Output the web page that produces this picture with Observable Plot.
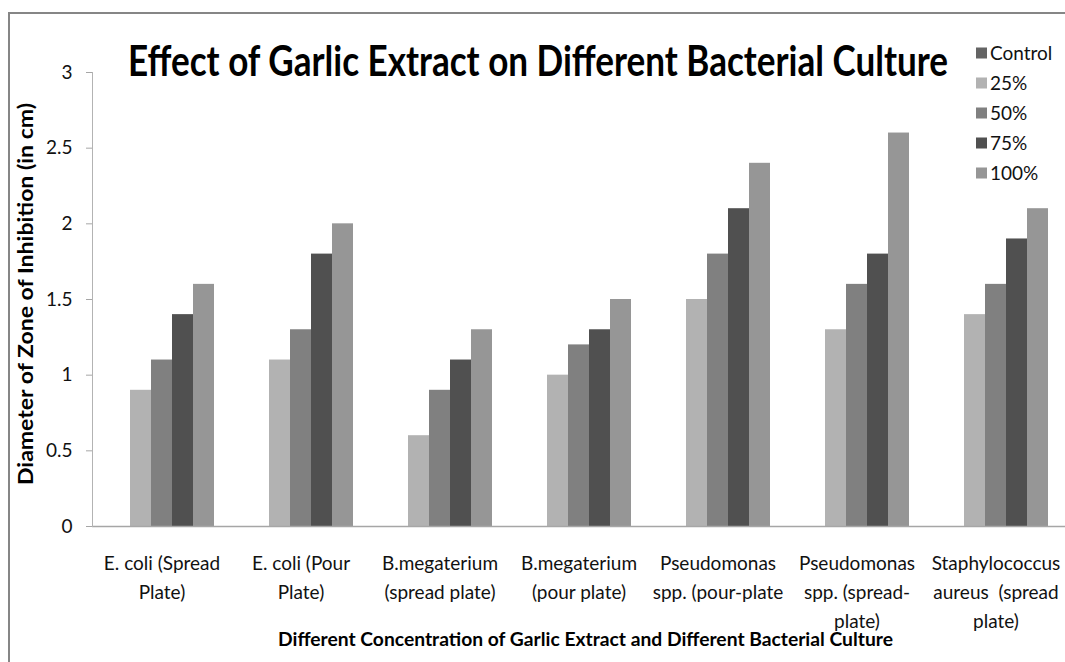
<!DOCTYPE html>
<html><head><meta charset="utf-8">
<script src="https://cdn.jsdelivr.net/npm/d3@7"></script>
<script src="https://cdn.jsdelivr.net/npm/@observablehq/plot@0.6"></script>
<style>html,body{margin:0;padding:0;background:#fff;} #chart{width:1065px;height:662px;}</style>
</head><body><div id="chart"></div>
<script>
const categories = ["E. coli (Spread Plate)", "E. coli (Pour Plate)", "B.megaterium (spread plate)", "B.megaterium (pour plate)", "Pseudomonas spp. (pour-plate", "Pseudomonas spp. (spread-plate)", "Staphylococcus aureus (spread plate)"];
const tickLabels = ["E. coli (Spread\nPlate)", "E. coli (Pour\nPlate)", "B.megaterium\n(spread plate)", "B.megaterium\n(pour plate)", "Pseudomonas\nspp. (pour-plate", "Pseudomonas\nspp. (spread-\nplate)", "Staphylococcus\naureus  (spread\nplate)"];
const seriesNames = ["Control", "25%", "50%", "75%", "100%"];
const control = [0, 0, 0, 0, 0, 0, 0];
const conc25 = [0.9, 1.1, 0.6, 1.0, 1.5, 1.3, 1.4];
const conc50 = [1.1, 1.3, 0.9, 1.2, 1.8, 1.6, 1.6];
const conc75 = [1.4, 1.8, 1.1, 1.3, 2.1, 1.8, 1.9];
const conc100 = [1.6, 2.0, 1.3, 1.5, 2.4, 2.6, 2.1];
const yTicks = [0, 0.5, 1, 1.5, 2, 2.5, 3];
const yTickLabels = ["0", "0.5", "1", "1.5", "2", "2.5", "3"];
const colors = ["#646464", "#b2b2b2", "#808080", "#505050", "#969696"];
const titleText = "Effect of Garlic Extract on Different Bacterial Culture";
const xTitle = "Different Concentration of Garlic Extract and Different Bacterial Culture";
const yTitle = "Diameter of Zone of Inhibition (in cm)";

const seriesValues = [control, conc25, conc50, conc75, conc100];
const data = categories.flatMap((c, i) => seriesValues.map((vals, j) => ({category: c, series: seriesNames[j], value: vals[i]})));

const plot = Plot.plot({
  width: 1065, height: 662,
  marginTop: 72, marginBottom: 136, marginLeft: 92, marginRight: 0,
  style: {fontFamily: "Lato, sans-serif", fontSize: "19px", color: "#111", background: "#fff", overflow: "visible"},
  fx: {domain: categories, padding: 0, label: null},
  x: {domain: seriesNames, paddingInner: 0, paddingOuter: 0.763, axis: null},
  y: {domain: [0, 3], label: null},
  color: {domain: seriesNames, range: colors},
  marks: [
    Plot.barY(data, {fx: "category", x: "series", y: "value", fill: "series"}),
    Plot.ruleY([0], {stroke: "#a6a6a6", strokeWidth: 1.5}),
    Plot.frame({anchor: "left", facetAnchor: "left", stroke: "#b3b3b3"}),
    Plot.axisY({ticks: yTicks, tickFormat: (d) => yTickLabels[yTicks.indexOf(d)], tickSize: 6, tickPadding: 14, stroke: "#a6a6a6", label: null}),
    Plot.axisFx({anchor: "bottom", tickSize: 0, tickPadding: 23, lineHeight: 1.52, tickFormat: (d) => tickLabels[categories.indexOf(d)], label: null})
  ]
});
document.getElementById("chart").appendChild(plot);

const svg = d3.select(plot);
svg.append("path").attr("d", "M9,662V13H1065").attr("fill", "none").attr("stroke", "#868686").attr("stroke-width", 2);
svg.append("text").text(titleText)
  .attr("x", 128).attr("y", 76).attr("text-anchor", "start")
  .attr("font-family", "Lato, sans-serif").attr("font-weight", "bold").attr("font-size", 42)
  .attr("textLength", 820).attr("lengthAdjust", "spacingAndGlyphs").attr("fill", "#000");
svg.append("text").text(yTitle)
  .attr("transform", "translate(33,294) rotate(-90)").attr("text-anchor", "middle")
  .attr("font-family", "Lato, sans-serif").attr("font-weight", "bold").attr("font-size", 20)
  .attr("textLength", 382).attr("lengthAdjust", "spacingAndGlyphs").attr("fill", "#000");
svg.append("text").text(xTitle)
  .attr("x", 278).attr("y", 646).attr("text-anchor", "start")
  .attr("font-family", "Lato, sans-serif").attr("font-weight", "bold").attr("font-size", 19)
  .attr("textLength", 615).attr("lengthAdjust", "spacingAndGlyphs").attr("fill", "#000");
const leg = svg.append("g").attr("font-family", "Lato, sans-serif").attr("font-size", 19).attr("fill", "#111").attr("text-anchor", "start");
seriesNames.forEach((s, i) => {
  const cy = 53 + i * 30;
  leg.append("rect").attr("x", 976).attr("y", cy - 5.5).attr("width", 11).attr("height", 11).attr("fill", colors[i]);
  leg.append("text").text(s).attr("x", 990).attr("y", cy).attr("dy", "0.36em");
});
</script>
</body></html>
